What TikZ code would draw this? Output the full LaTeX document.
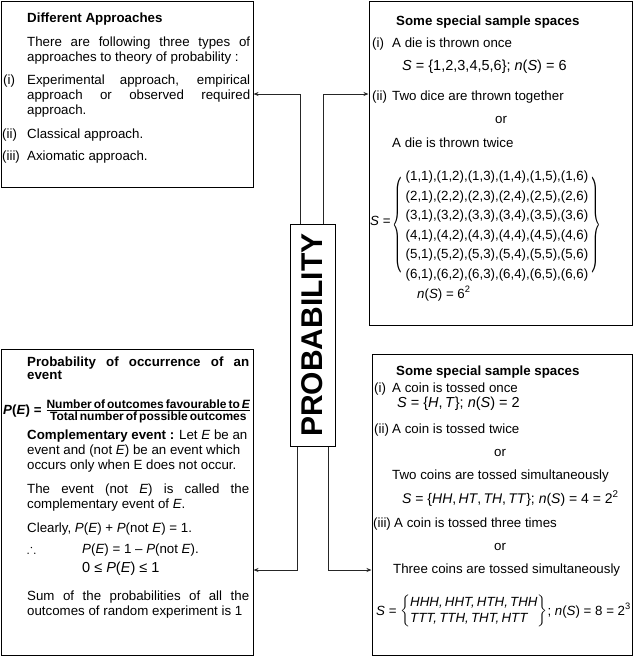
\documentclass[tikz,border=0pt]{standalone}
\usepackage{fontspec}
\setmainfont{Liberation Sans}
\usepackage{amsmath}
\usepackage{amssymb}
\usepackage{graphicx}
\usetikzlibrary{
  arrows.meta,
  positioning
}

\begin{document}
\begin{tikzpicture}[
        x=1pt, y=-1pt,
        >={Stealth[length=5pt,width=4pt]},
        frame/.style={draw, line width=1pt, inner sep=0pt},
        txt/.style={anchor=base west, inner sep=0pt, font=\fontsize{13.3}{15}\selectfont},
        head/.style={txt, font=\fontsize{13.3}{15}\selectfont\bfseries},
        eqn/.style={txt, font=\fontsize{14.5}{17}\selectfont},
        link/.style={->, line width=0.9pt, black!85}
    ]
        \useasboundingbox (0,0) rectangle (633,657);
        % Boxes
        \node[frame, minimum width=252pt, minimum height=186pt] (tl) at (127,94) {};
        \node[frame, minimum width=263pt, minimum height=324pt] (tr) at (500.5,163) {};
        \node[frame, minimum width=252pt, minimum height=306pt] (bl) at (127,502) {};
        \node[frame, minimum width=260pt, minimum height=301pt] (br) at (502,504.5) {};
        \node[frame, minimum width=45pt, minimum height=222pt, font=\fontsize{30}{30}\selectfont\bfseries] (prob) at (312.5,335) {\rotatebox{90}{PROBABILITY}};

        % Different approaches
        \node[head] (tlHead) at (27,22) {Different Approaches};
        \node[txt] (tlIntro) at (27,46) {\parbox[t]{223pt}{There are following three types of\linebreak approaches to theory of probability :}};
        \node[txt] (tlOne) at (3,84) {(i)};
        \node[txt] (tlOneText) at (27,84) {\parbox[t]{223pt}{Experimental approach, empirical\linebreak approach or observed required\linebreak approach.}};
        \node[txt] (tlTwo) at (2,138) {(ii)};
        \node[txt] (tlTwoText) at (27,138) {Classical approach.};
        \node[txt] (tlThree) at (2,160) {(iii)};
        \node[txt] (tlThreeText) at (27,160) {Axiomatic approach.};

        % Dice
        \node[head] (trHead) at (396,25) {Some special sample spaces};
        \node[txt] (trOne) at (372,47) {(i)};
        \node[txt] (trOneText) at (392,47) {A die is thrown once};
        \node[eqn] (trOneSet) at (402,70) {\textit{S} = \{1,2,3,4,5,6\}; \textit{n}(\textit{S}) = 6};
        \node[txt] (trTwo) at (372,100) {(ii)};
        \node[txt] (trTwoText) at (392,100) {Two dice are thrown together};
        \node[txt] (trOr) at (495,123) {or};
        \node[txt] (trTwice) at (392,147) {A die is thrown twice};
        \node[txt] (trTwoSet) at (370,229) {\raisebox{4pt}{\textit{S} =}\,{\renewcommand{\arraystretch}{1.3}$\vcenter{\hbox{\scalebox{1}[2.4]{$\Bigg\{$}}}\vcenter{\hbox{\begin{tabular}{@{\,}l@{\,}}
            (1,1),(1,2),(1,3),(1,4),(1,5),(1,6)\\
            (2,1),(2,2),(2,3),(2,4),(2,5),(2,6)\\
            (3,1),(3,2),(3,3),(3,4),(3,5),(3,6)\\
            (4,1),(4,2),(4,3),(4,4),(4,5),(4,6)\\
            (5,1),(5,2),(5,3),(5,4),(5,5),(5,6)\\
            (6,1),(6,2),(6,3),(6,4),(6,5),(6,6)
            \end{tabular}}}\vcenter{\hbox{\scalebox{1}[2.4]{$\Bigg\}$}}}$}};
        \node[txt] (trCount) at (417,298) {\textit{n}(\textit{S}) = 6\textsuperscript{2}};

        % Occurrence of an event
        \node[txt, font=\fontsize{13.3}{13.5}\selectfont\bfseries] (blHead) at (27,366) {\parbox[t]{222pt}{Probability of occurrence of an\linebreak event}};
        \node[txt] (blFormula) at (3,414) {\textbf{\textit{P}(\textit{E}) =} $\genfrac{}{}{1pt}{}{\text{\fontsize{12}{14}\selectfont\bfseries Number\,of\,outcomes\,favourable\,to\,\textit{E}}}{\text{\fontsize{12}{14}\selectfont\bfseries Total\,number\,of\,possible\,outcomes}}$};
        \node[txt] (blComp) at (27,439) {\parbox[t]{222pt}{\raggedright\textbf{Complementary event :} Let \textit{E} be an\\ event and (not \textit{E}) be an event which\\ occurs only when E does not occur.}};
        \node[txt] (blNot) at (27,493) {\parbox[t]{222pt}{The event (not \textit{E}) is called the\linebreak complementary event of \textit{E}.}};
        \node[txt] (blClear) at (27,532) {Clearly, \textit{P}(\textit{E}) + \textit{P}(not \textit{E}) = 1.};
        \node[txt] (blThus) at (27,553) {$\therefore$};
        \node[txt] (blThusEq) at (82,553) {\textit{P}(\textit{E}) = 1 – \textit{P}(not \textit{E}).};
        \node[eqn] (blRange) at (82,572) {0 ≤ \textit{P}(\textit{E}) ≤ 1};
        \node[txt] (blSum) at (27,600) {\parbox[t]{222pt}{Sum of the probabilities of all the\linebreak outcomes of random experiment is 1}};

        % Coins
        \node[head] (brHead) at (396,375) {Some special sample spaces};
        \node[txt] (brOne) at (374,392) {(i)};
        \node[txt] (brOneText) at (392,392) {A coin is tossed once};
        \node[eqn] (brOneSet) at (397,407) {\textit{S} = \{\textit{H},\,\textit{T}\}; \textit{n}(\textit{S}) = 2};
        \node[txt] (brTwo) at (374,433) {(ii)};
        \node[txt] (brTwoText) at (392,433) {A coin is tossed twice};
        \node[txt] (brOrA) at (494,456) {or};
        \node[txt] (brTwoCoins) at (392,479) {Two coins are tossed simultaneously};
        \node[txt, font=\fontsize{14}{16}\selectfont] (brTwoSet) at (402,503) {\textit{S} = \{\textit{HH},\,\textit{HT},\,\textit{TH},\,\textit{TT}\}; \textit{n}(\textit{S}) = 4 = 2\textsuperscript{2}};
        \node[txt] (brThree) at (373,527) {(iii)};
        \node[txt] (brThreeText) at (394,527) {A coin is tossed three times};
        \node[txt] (brOrB) at (494,550) {or};
        \node[txt] (brThreeCoins) at (393,573) {Three coins are tossed simultaneously};
        \node[txt] (brThreeSet) at (376,615) {\textit{S} = {\renewcommand{\arraystretch}{1.1}$\left\{\begin{tabular}{@{}l@{}}
            \textit{HHH,\,HHT,\,HTH,\,THH}\\
            \textit{TTT,\,TTH,\,THT,\,HTT}
            \end{tabular}\right\}$}; \textit{n}(\textit{S}) = 8 = 2\textsuperscript{3}};

        % Connectors
        \coordinate (lowrow) at (0,570);
        \draw[link] ([xshift=-12.5pt]prob.north) |- (tl.east);
        \draw[link] ([xshift=10.5pt]prob.north) |- (tr.west |- tl.east);
        \draw[link] ([xshift=-15.5pt]prob.south) |- (bl.east |- lowrow);
        \draw[link] ([xshift=15.5pt]prob.south) |- (br.west |- lowrow);
    \end{tikzpicture}
\end{document}
